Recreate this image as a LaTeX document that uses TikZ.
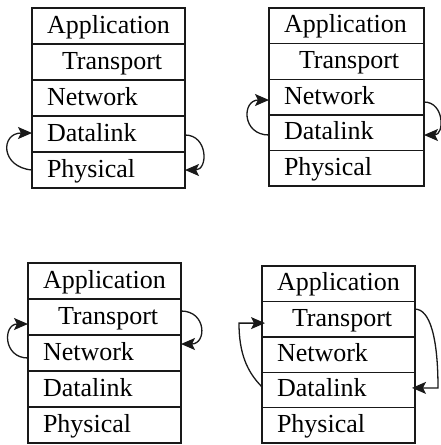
\documentclass[tikz,border=0pt]{standalone}
\usepackage{fontspec}
\setmainfont{Liberation Serif}
\usetikzlibrary{arrows.meta}
\begin{document}
\begin{tikzpicture}[x=1pt,y=1pt,
  layer/.style={draw=black!90, line width=1.4pt, outer sep=0pt, inner xsep=15pt, inner ysep=0pt,
    minimum height=36pt, text width=123pt, align=left, text height=18.5pt, text depth=4.5pt,
    font=\fontsize{26}{30}\selectfont, anchor=north west},
  wide/.style={text width=125pt},
  rowh/.style={minimum height=#1},
  arr/.style={draw=black!90, line width=1.3pt, -{Stealth[length=14pt,width=12pt,inset=3pt]}}
]
\useasboundingbox (0,0) rectangle (440,-445);

% Stack 1 (left 32, top 8, row 36)
\node[layer] (A1) at (32,-8)   {Application};
\node[layer] (T1) at (32,-44)  {\hspace*{15pt}Transport};
\node[layer] (N1) at (32,-80)  {Network};
\node[layer] (D1) at (32,-116) {Datalink};
\node[layer] (P1) at (32,-152) {Physical};

% Stack 2 (left 269, top 8, row 35.6)
\node[layer, wide, rowh=35.6pt] (A2) at (269,-8)     {Application};
\node[layer, wide, rowh=35.6pt] (T2) at (269,-43.6)  {\hspace*{15pt}Transport};
\node[layer, wide, rowh=35.6pt] (N2) at (269,-79.2)  {Network};
\node[layer, wide, rowh=35.6pt] (D2) at (269,-114.8) {Datalink};
\node[layer, wide, rowh=35.6pt] (P2) at (269,-150.4) {Physical};

% Stack 3 (left 28, top 263, row 36)
\node[layer] (A3) at (28,-263) {Application};
\node[layer] (T3) at (28,-299) {\hspace*{15pt}Transport};
\node[layer] (N3) at (28,-335) {Network};
\node[layer] (D3) at (28,-371) {Datalink};
\node[layer] (P3) at (28,-407) {Physical};

% Stack 4 (left 262, top 266, row 35.4)
\node[layer, rowh=35.4pt] (A4) at (262,-266)   {Application};
\node[layer, rowh=35.4pt] (T4) at (262,-301.4) {\hspace*{15pt}Transport};
\node[layer, rowh=35.4pt] (N4) at (262,-336.8) {Network};
\node[layer, rowh=35.4pt] (D4) at (262,-372.2) {Datalink};
\node[layer, rowh=35.4pt] (P4) at (262,-407.6) {Physical};

% Arrows stack 1
\draw[arr] (P1.west) to[out=175,in=180,looseness=2.2] ([yshift=1pt]D1.west);
\draw[arr] ([yshift=-1pt]D1.east) to[out=0,in=0,looseness=1.7] (P1.east);

% Arrows stack 2
\draw[arr] ([yshift=-2.4pt]D2.west) to[out=180,in=180,looseness=2] ([yshift=-3pt]N2.west);
\draw[arr] ([yshift=-5pt]N2.east) to[out=0,in=0,looseness=1.6] ([yshift=-2.4pt]D2.east);

% Arrows stack 3
\draw[arr] ([yshift=-5pt]N3.west) to[out=180,in=180,looseness=1.9] ([yshift=-7pt]T3.west);
\draw[arr] ([yshift=6pt]T3.east) to[out=0,in=0,looseness=2] ([yshift=9pt]N3.east);

% Arrows stack 4
\coordinate (c4l) at ([xshift=-23pt,yshift=-4pt]T4.west);
\coordinate (c4r) at ([xshift=23pt,yshift=2pt]D4.east);
\draw[arr, shorten >=-3pt] ([yshift=3pt]D4.west) .. controls +(-15,15) and +(0,-30) .. (c4l) -- ([yshift=-4pt]T4.west);
\draw[arr, shorten >=-3pt] ([yshift=10pt]T4.east) .. controls +(15,0) and +(0,50) .. (c4r) -- ([yshift=2pt]D4.east);
\end{tikzpicture}
\end{document}
